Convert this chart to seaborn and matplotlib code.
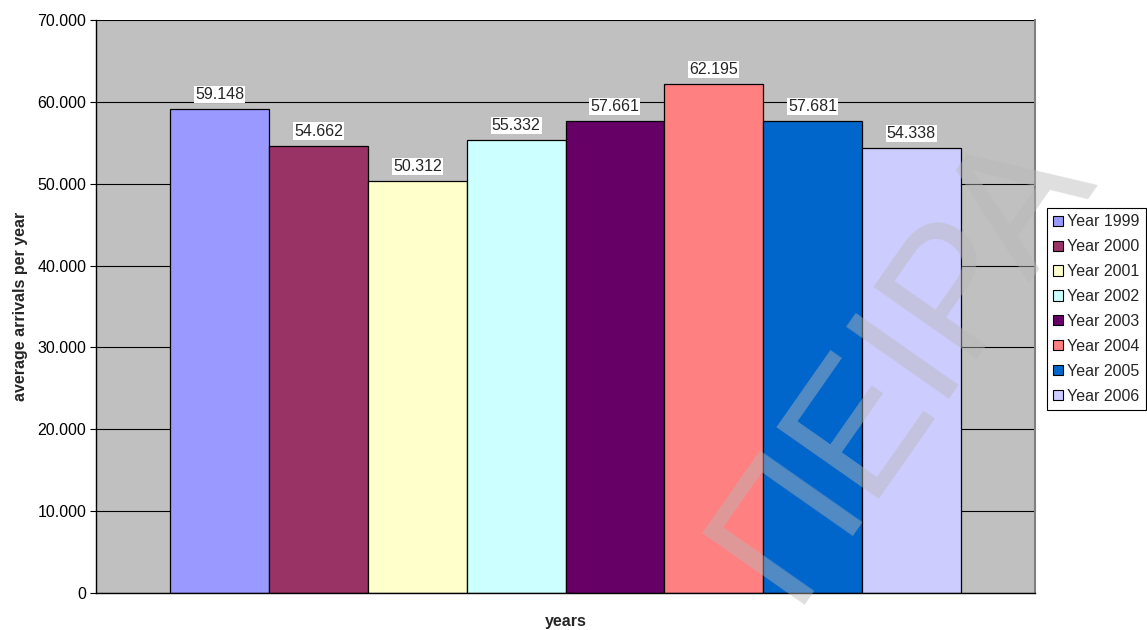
import matplotlib
matplotlib.use("Agg")
import matplotlib.pyplot as plt
import seaborn as sns
import pandas as pd

# Average arrivals per year
years = ["Year 1999", "Year 2000", "Year 2001", "Year 2002",
         "Year 2003", "Year 2004", "Year 2005", "Year 2006"]
arrivals = [59148, 54662, 50312, 55332, 57661, 62195, 57681, 54338]
bar_colors = ["#9999FF", "#993366", "#FFFFCC", "#CCFFFF",
              "#660066", "#FF8080", "#0066CC", "#CCCCFF"]
y_ticks = [0, 10000, 20000, 30000, 40000, 50000, 60000, 70000]


def dotted(v):
    return f"{v:,.0f}".replace(",", ".")


df = pd.DataFrame({"group": [""] * len(years), "year": years, "arrivals": arrivals})

sns.set_style("white")
plt.rcParams["font.family"] = ["Liberation Sans", "DejaVu Sans"]

fig = plt.figure(figsize=(11.47, 6.30), dpi=100)
ax = fig.add_axes([96 / 1147, 1 - 593 / 630, (1035 - 96) / 1147, (593 - 20) / 630])
ax.set_facecolor("#C0C0C0")
ax.set_axisbelow(True)

sns.barplot(data=df, x="group", y="arrivals", hue="year", hue_order=years,
            palette=dict(zip(years, bar_colors)), saturation=1, width=0.842,
            edgecolor="black", linewidth=0.9, ax=ax, legend=True)

ax.set_xlim(-0.5, 0.5)
ax.set_ylim(0, 70000)
ax.set_yticks(y_ticks)
ax.set_yticklabels([dotted(v) for v in y_ticks], fontsize=11.5)
ax.yaxis.grid(True, color="black", linewidth=0.8)
ax.xaxis.grid(False)
ax.tick_params(axis="y", which="both", left=True, length=4, width=0.8, color="black",
               labelcolor="black", pad=3)
ax.tick_params(axis="x", bottom=False, labelbottom=False)

for side in ("left", "bottom"):
    ax.spines[side].set_color("black")
    ax.spines[side].set_linewidth(1.0)
for side in ("top", "right"):
    ax.spines[side].set_color("#808080")
    ax.spines[side].set_linewidth(1.5)
ax.spines["top"].set_visible(False)

ax.set_xlabel("years", fontsize=11.5, fontweight="bold", labelpad=15)
ax.set_ylabel("average arrivals per year", fontsize=11.5, fontweight="bold", labelpad=7)

for cont, val in zip(ax.containers, arrivals):
    ax.bar_label(cont, labels=[dotted(val)], padding=5, fontsize=11.5,
                 bbox=dict(facecolor="white", edgecolor="none", pad=0.8))

sns.move_legend(ax, "upper left", bbox_to_anchor=(1047 / 1147, 1 - 208 / 630),
                bbox_transform=fig.transFigure, title=None, frameon=True,
                fancybox=False, edgecolor="black", fontsize=11.5, borderaxespad=0,
                handlelength=0.6, handleheight=0.6, handletextpad=0.25,
                labelspacing=0.62, borderpad=0.4)
leg = ax.get_legend()
leg.get_frame().set_linewidth(0.8)
leg.get_frame().set_alpha(1)
for h in leg.legend_handles:
    h.set_edgecolor("black")
    h.set_linewidth(0.8)

# Watermark across the figure
fig.text(790 / 1147, 1 - 605 / 630, "ΠΕΙΡΑ", rotation=55, rotation_mode="anchor",
         ha="left", va="baseline", fontsize=130, color=(0.72, 0.72, 0.72), alpha=0.45,
         family=["Liberation Sans", "DejaVu Sans"], zorder=10)

fig.savefig("out.png", dpi=100, facecolor="white")
